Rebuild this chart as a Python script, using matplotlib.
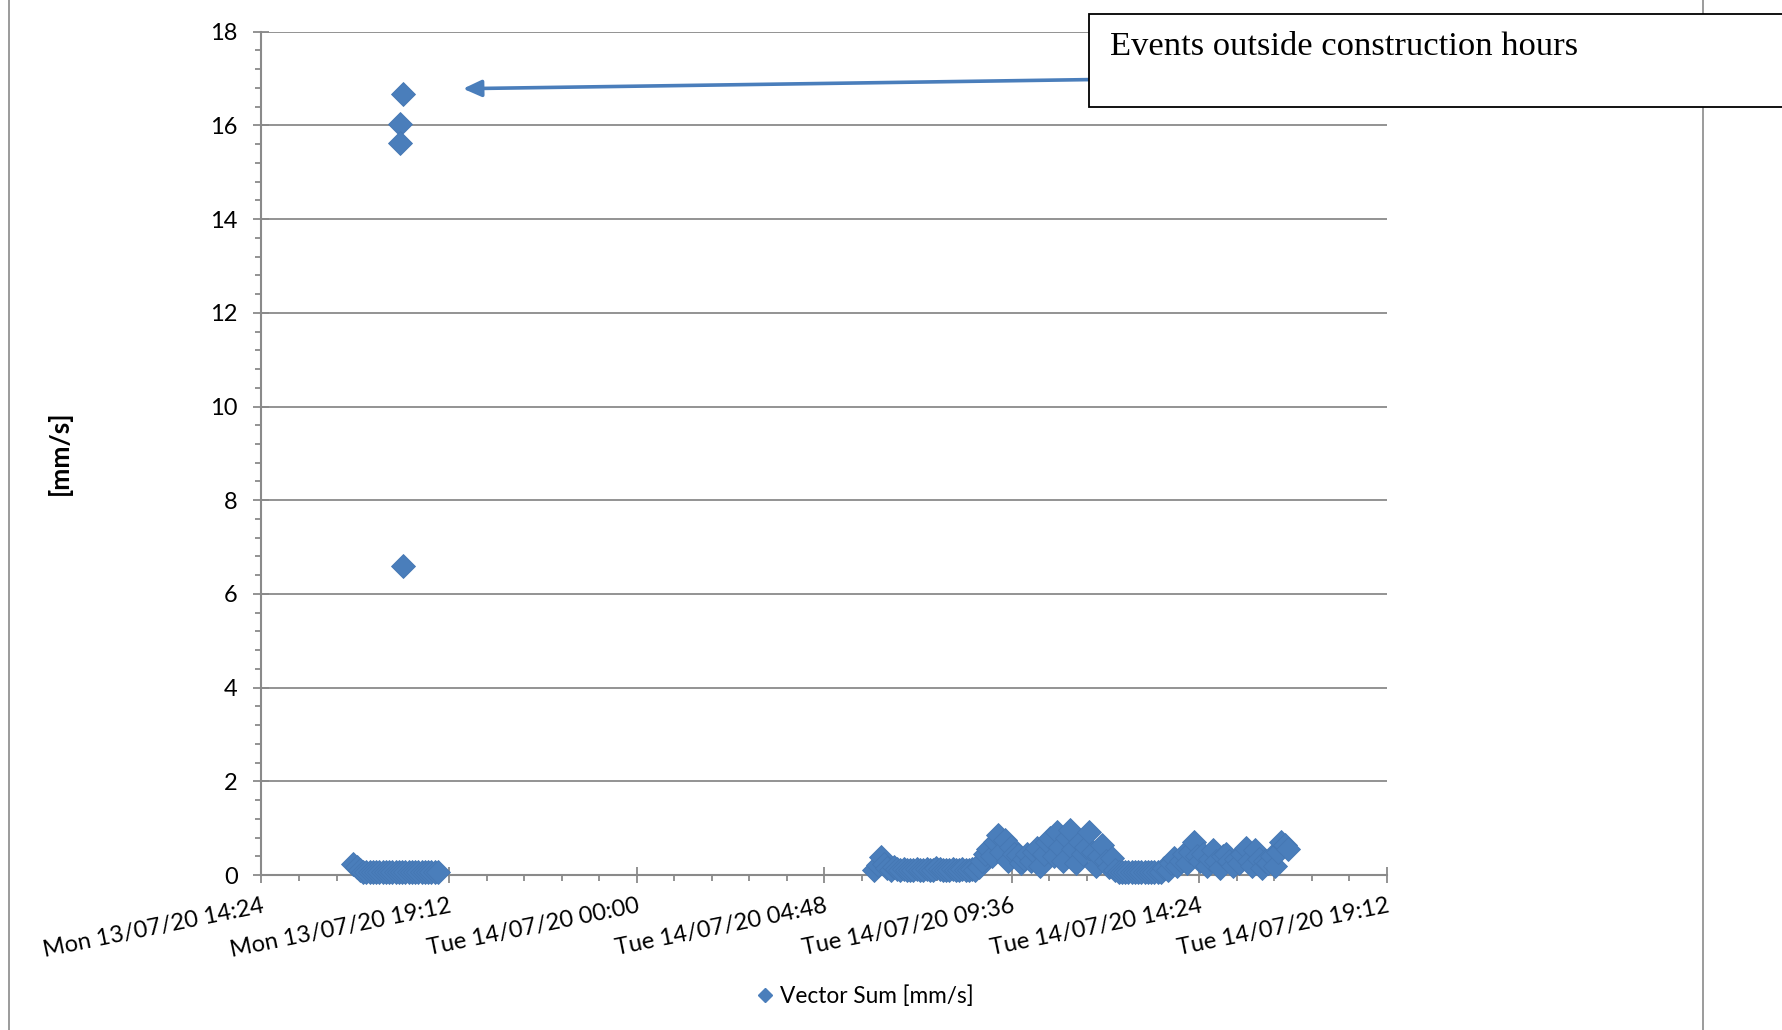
import matplotlib
matplotlib.use("Agg")
import matplotlib.pyplot as plt
import matplotlib.dates as mdates
from matplotlib.lines import Line2D
from matplotlib.patches import Rectangle
import pandas as pd
import numpy as np

# ---------------- data ----------------
# Monday evening cluster, 5-minute logger interval
seg1_start = "2020-07-13 16:45"
seg1_values = [0.23, 0.18, 0.10, 0.07, 0.06, 0.07, 0.06, 0.07, 0.06, 0.07,
               0.06, 0.07, 0.06, 0.07, 0.06, 0.07, 0.06, 0.07, 0.06, 0.07,
               0.06, 0.07, 0.06, 0.07, 0.06, 0.07, 0.06]

# isolated high events outside construction hours
outlier_times = ["2020-07-13 17:57", "2020-07-13 17:57",
                 "2020-07-13 18:01", "2020-07-13 18:01"]
outlier_values = [16.03, 15.63, 16.66, 6.60]

# Tuesday cluster, 5-minute logger interval (06:05 - 16:40)
seg2_start = "2020-07-14 06:05"
seg2_values = [
    0.10, 0.22, 0.38, 0.24, 0.14, 0.11, 0.18, 0.12, 0.10, 0.12, 0.10,            # 06:05-06:55
    0.11, 0.10, 0.12, 0.10, 0.11, 0.12, 0.10, 0.11, 0.16, 0.12, 0.10, 0.11,      # 07
    0.10, 0.12, 0.11, 0.10, 0.12, 0.11, 0.10, 0.12, 0.11, 0.18, 0.30, 0.45,      # 08
    0.55, 0.40, 0.70, 0.85, 0.50, 0.75, 0.30, 0.60, 0.45, 0.43, 0.25, 0.35,      # 09
    0.45, 0.30, 0.50, 0.57, 0.20, 0.45, 0.70, 0.78, 0.40, 0.92, 0.60, 0.30,      # 10
    0.80, 0.96, 0.55, 0.25, 0.71, 0.45, 0.60, 0.92, 0.50, 0.20, 0.40, 0.64,      # 11
    0.30, 0.18, 0.36, 0.10, 0.07, 0.06, 0.07, 0.06, 0.07, 0.06, 0.07, 0.06,      # 12
    0.07, 0.06, 0.07, 0.06, 0.07, 0.06, 0.15, 0.10, 0.25, 0.36, 0.20, 0.30,      # 13
    0.45, 0.25, 0.50, 0.71, 0.40, 0.30, 0.45, 0.20, 0.35, 0.53, 0.30, 0.15,      # 14
    0.40, 0.45, 0.30, 0.20, 0.35, 0.25, 0.45, 0.57, 0.30, 0.20, 0.53, 0.35,      # 15
    0.15, 0.30, 0.25, 0.40, 0.20, 0.50, 0.71, 0.65, 0.55,                        # 16:00-16:40
]

series_label = "Vector Sum [mm/s]"
y_label = "[mm/s]"
annotation_text = "Events outside construction hours"

x_start = "2020-07-13 14:24"
x_end = "2020-07-14 19:12"
y_max = 18

# ---------------- build series ----------------
t1 = pd.date_range(seg1_start, periods=len(seg1_values), freq="5min")
t2 = pd.date_range(seg2_start, periods=len(seg2_values), freq="5min")
to = pd.to_datetime(outlier_times)
times = list(t1) + list(to) + list(t2)
values = list(seg1_values) + list(outlier_values) + list(seg2_values)
xnum = mdates.date2num([t.to_pydatetime() for t in times])

W, H = 1783, 1030
fig = plt.figure(figsize=(W / 100, H / 100), dpi=100)
plt.rcParams['font.family'] = ['Lato', 'DejaVu Sans']

L, R = 261.5 / W, 1387 / W
B, T = 1 - 875 / H, 1 - 31.7 / H
ax = fig.add_axes([L, B, R - L, T - B])

blue = "#4a7ebb"
ax.plot(xnum, values, ls="none", marker="D", ms=12, mfc=blue, mec="#4577b3",
        mew=0.6, label=series_label, zorder=3, clip_on=False)

x0 = mdates.date2num(pd.Timestamp(x_start).to_pydatetime())
x1 = mdates.date2num(pd.Timestamp(x_end).to_pydatetime())
ax.set_xlim(x0, x1)
ax.set_ylim(0, y_max)

major_x = pd.date_range(x_start, x_end, freq="288min")
minor_x = pd.date_range(x_start, x_end, freq="3456s")
ax.set_xticks(mdates.date2num([t.to_pydatetime() for t in major_x]))
ax.set_xticks(mdates.date2num([t.to_pydatetime() for t in minor_x]), minor=True)
ax.xaxis.set_major_formatter(mdates.DateFormatter("%a %d/%m/%y %H:%M"))
ax.set_yticks(np.arange(0, y_max + 0.01, 2))
ax.set_yticks(np.arange(0, y_max + 0.01, 0.4), minor=True)

grey = "#8a8a8a"
for s in ["top", "right"]:
    ax.spines[s].set_visible(False)
for s in ["left", "bottom"]:
    ax.spines[s].set_color(grey)
    ax.spines[s].set_linewidth(1.5)
ax.yaxis.grid(True, which="major", color=grey, lw=1.3)
ax.set_axisbelow(True)

ax.tick_params(axis="both", which="major", direction="inout", length=11.5,
               width=1.3, color=grey, labelsize=17, labelcolor="black")
ax.tick_params(axis="both", which="minor", direction="out", length=4.3,
               width=1.3, color=grey)
ax.tick_params(axis="y", which="major", pad=11.5)
ax.tick_params(axis="x", which="major", pad=9)
for lab in ax.get_xticklabels():
    lab.set_rotation(11.5)
    lab.set_ha("right")
    lab.set_va("top")
    lab.set_rotation_mode("anchor")

fig.text(59 / W, 1 - 453 / H, y_label, rotation=90, ha="center", va="center",
         fontsize=19, fontweight="bold")

leg_handle = Line2D([], [], ls="none", marker="D", ms=7.5, mfc=blue, mec=blue)
fig.legend([leg_handle], [series_label], loc="center",
           bbox_to_anchor=(0.485, 1 - 996 / H), frameon=False, fontsize=16.3,
           handlelength=0.8, handletextpad=0.3)

# chart-area border lines (cropped chart)
for xp in (9, 1703):
    fig.add_artist(Line2D([xp / W, xp / W], [0, 1], color=grey, lw=1.2,
                          transform=fig.transFigure))

# annotation box + arrow
box = Rectangle((1089 / W, 1 - 107 / H), (1800 - 1089) / W, (107 - 13.6) / H,
                transform=fig.transFigure, fc="white", ec="black", lw=1.3,
                zorder=5)
fig.add_artist(box)
fig.text(1110 / W, 1 - 47 / H, annotation_text, fontfamily="Liberation Serif",
         fontsize=24.8, va="center", ha="left", zorder=6)
ax.annotate("", xy=(463, H - 88.7), xycoords="figure pixels",
            xytext=(1089, H - 79.6), textcoords="figure pixels",
            arrowprops=dict(arrowstyle="-|>,head_length=0.55,head_width=0.25",
                            color=blue, lw=2.6, mutation_scale=20,
                            shrinkA=0, shrinkB=0))

fig.savefig("out.png", dpi=100)
